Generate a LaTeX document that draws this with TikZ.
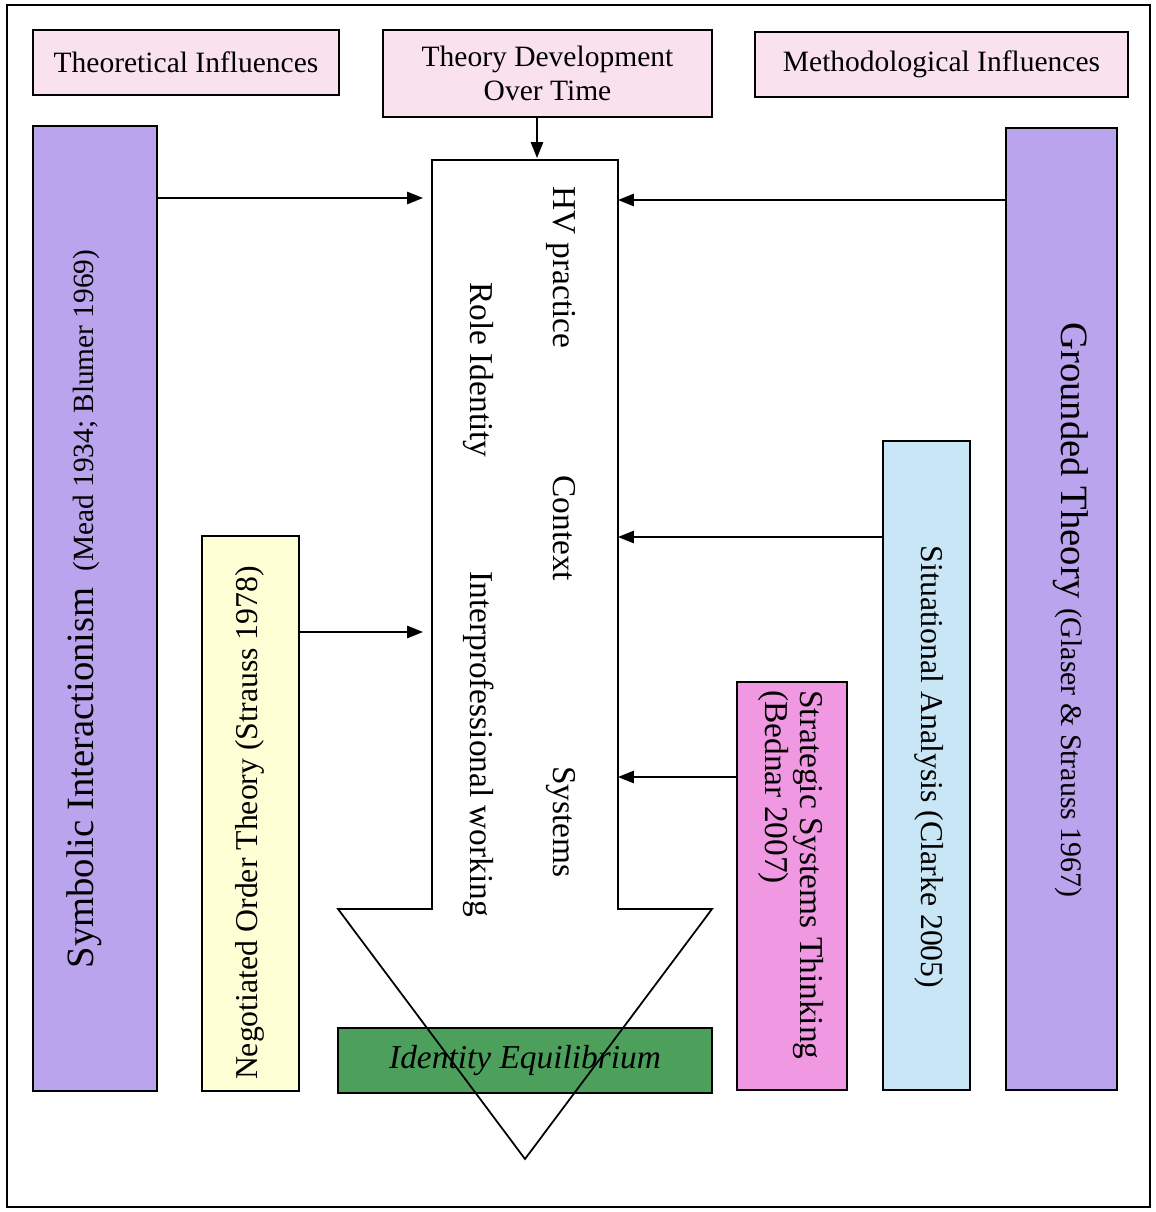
\documentclass[tikz,border=0pt]{standalone}
\usepackage{fontspec}
\setmainfont{Liberation Serif}
\usetikzlibrary{arrows.meta,fit}
\definecolor{headpink}{RGB}{249,226,238}
\definecolor{lilac}{RGB}{186,164,238}
\definecolor{paleyellow}{RGB}{255,255,214}
\definecolor{paleblue}{RGB}{200,230,246}
\definecolor{orchid}{RGB}{240,152,226}
\definecolor{eqgreen}{RGB}{76,160,92}
\begin{document}
\begin{tikzpicture}[x=0.02cm,y=-0.02cm,
  box/.style={draw=black, line width=1.1pt, inner sep=0pt},
  headbox/.style={box, fill=headpink},
  bar/.style={box},
  conn/.style={line width=0.9pt, -{Triangle[length=9pt,width=7pt]}},
  toptext/.style={font=\fontsize{16.8}{19}\selectfont, align=center},
  midtext/.style={rotate=-90, anchor=base west, inner sep=0pt, font=\fontsize{19}{22}\selectfont},
]
\useasboundingbox (0,0) rectangle (1155,1212);
% outer frame
\draw[line width=1.4pt, fill=white] (7,5) rectangle (1150,1207);

% heading boxes
\node[headbox, fit={(33,30) (339,95)}] (theo) {};
\node[toptext] at (theo.center) {Theoretical Influences};
\node[headbox, fit={(383,30) (712,117)}] (tdev) {};
\node[toptext] at (tdev.center) {Theory Development\\Over Time};
\node[headbox, fit={(755,32) (1128,97)}] (meth) {};
\node[toptext] at (meth.center) {Methodological Influences};

% theoretical bars (left)
\node[bar, fill=lilac, fit={(33,126) (157,1091)}] (sym) {};
\node[rotate=90, anchor=base, inner sep=0pt] (symtxt) at (93,609)
  {\fontsize{22}{26}\selectfont Symbolic Interactionism\hspace{9pt}\fontsize{16.7}{20}\selectfont(Mead 1934; Blumer 1969)};
\node[bar, fill=paleyellow, fit={(202,536) (299,1091)}] (neg) {};
\node[rotate=90, anchor=base, inner sep=0pt, font=\fontsize{18.1}{21}\selectfont] (negtxt) at (257,823)
  {Negotiated Order Theory (Strauss 1978)};

% methodological bars (right)
\node[bar, fill=lilac, fit={(1006,128) (1117,1090)}] (gt) {};
\node[rotate=-90, anchor=base, inner sep=0pt] (gttxt) at (1061,610)
  {\fontsize{22}{26}\selectfont Grounded Theory \fontsize{17}{20}\selectfont(Glaser \& Strauss 1967)};
\node[bar, fill=paleblue, fit={(883,441) (970,1090)}] (sit) {};
\node[rotate=-90, anchor=base, inner sep=0pt, font=\fontsize{18.1}{21}\selectfont] (sittxt) at (921,767)
  {Situational Analysis (Clarke 2005)};
\node[bar, fill=orchid, fit={(737,682) (847,1090)}] (sst) {};
\node[rotate=-90, anchor=north west, inner sep=0pt, align=left, font=\fontsize{19}{20}\selectfont] (ssttxt) at (824,690)
  {Strategic Systems Thinking\\(Bednar 2007)};

% central arrow: development over time
\fill[white] (432,160) -- (618,160) -- (618,909) -- (712,909) -- (525,1159)
  -- (338,909) -- (432,909) -- cycle;
\node[box, fill=eqgreen, fit={(338,1028) (712,1093)}] (eq) {};
\draw[line width=1pt, line join=miter] (432,160) -- (618,160) -- (618,909) -- (712,909) -- (525,1159)
  -- (338,909) -- (432,909) -- cycle;
\node[font=\fontsize{19}{22}\selectfont\itshape, anchor=base] (eqtxt) at (525,1068) {Identity Equilibrium};
\node[fit={(432,160) (618,909)}, inner sep=0pt] (shaft) {};

\node[midtext] (hv) at (553,186) {HV practice};
\node[midtext] (role) at (470,282) {Role Identity};
\node[midtext] (ctx) at (553,475) {Context};
\node[midtext] (ipw) at (470,571) {Interprofessional working};
\node[midtext] (sys) at (553,766) {Systems};

% influence connectors
\coordinate (inTop) at (537,158);
\coordinate (inSym) at (423,198);
\coordinate (inNeg) at (423,632);
\coordinate (inGt) at (618,200);
\coordinate (inSit) at (618,537);
\coordinate (inSst) at (618,777);
\draw[conn] (tdev.south -| inTop) -- (inTop);
\draw[conn] (sym.east |- inSym) -- (inSym);
\draw[conn] (neg.east |- inNeg) -- (inNeg);
\draw[conn] (gt.west |- inGt) -- (inGt);
\draw[conn] (sit.west |- inSit) -- (inSit);
\draw[conn] (sst.west |- inSst) -- (inSst);
\end{tikzpicture}
\end{document}
